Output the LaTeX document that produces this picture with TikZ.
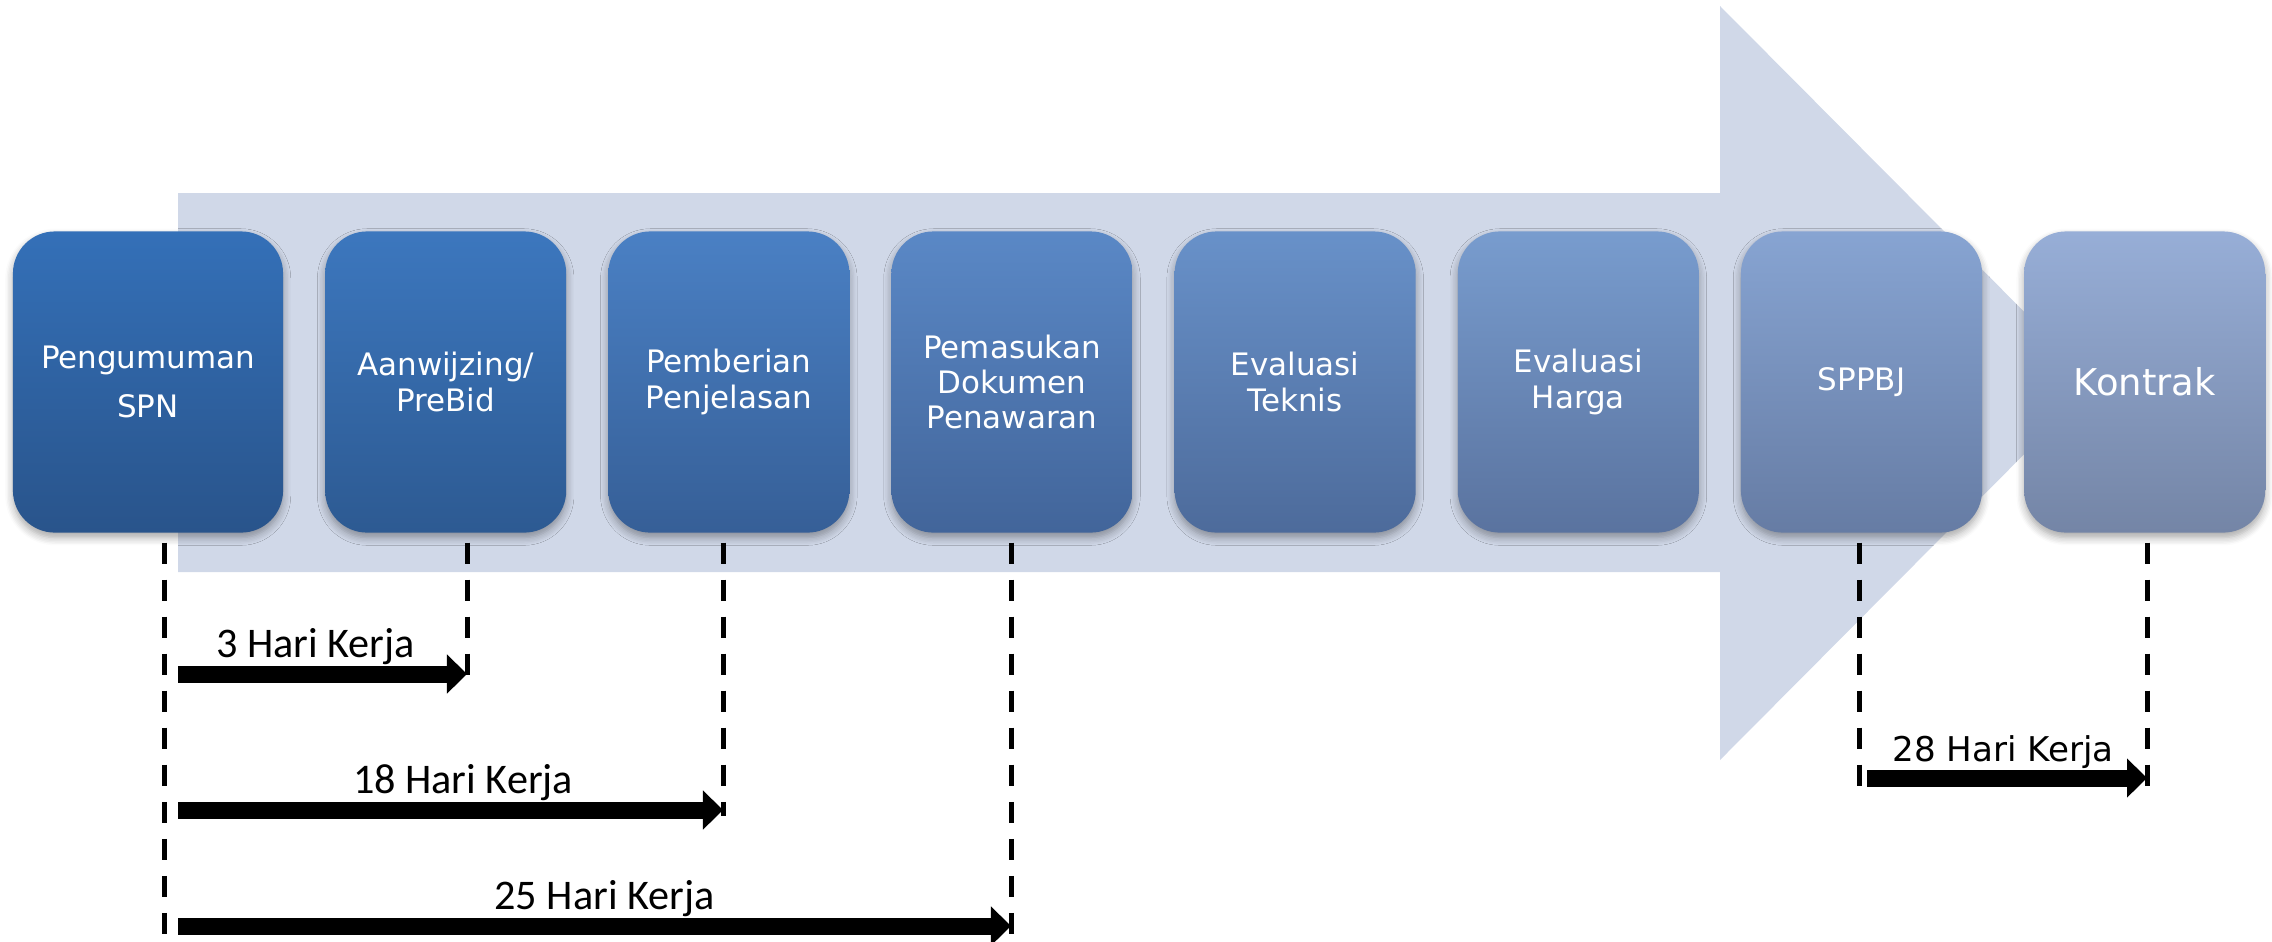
\documentclass[tikz,border=0pt]{standalone}
\usepackage{fontspec}
\setmainfont{DejaVu Sans}
\newfontfamily\carlito{Carlito}
\usepackage{tikz}
\usetikzlibrary{positioning,arrows.meta,shadows.blur}

\definecolor{arrowbg}{HTML}{D0D8E8}
\definecolor{spntop}{HTML}{3470B8}
\definecolor{spnbot}{HTML}{29548B}
\definecolor{prebidtop}{HTML}{3C77BE}
\definecolor{prebidbot}{HTML}{2D5A92}
\definecolor{penjelasantop}{HTML}{4A80C4}
\definecolor{penjelasanbot}{HTML}{365F97}
\definecolor{penawarantop}{HTML}{5A88C6}
\definecolor{penawaranbot}{HTML}{42659A}
\definecolor{teknistop}{HTML}{6891C9}
\definecolor{teknisbot}{HTML}{4D6B9B}
\definecolor{hargatop}{HTML}{789CCE}
\definecolor{hargabot}{HTML}{5A739F}
\definecolor{sppbjtop}{HTML}{87A4D2}
\definecolor{sppbjbot}{HTML}{667CA4}
\definecolor{kontraktop}{HTML}{97AED7}
\definecolor{kontrakbot}{HTML}{7485A6}

\tikzset{
  every node/.style={
    font=\fontsize{8.8}{10}\selectfont
  },
  stage box/.style n args={2}{
    shape=rectangle,
    rounded corners=0.42cm,
    minimum width=2.41cm,
    minimum height=3.01cm,
    inner sep=0pt,
    outer sep=0pt,
    align=center,
    text=white,
    top color=#1,
    bottom color=#2,
    blur shadow={shadow xshift=0cm, shadow yshift=-0.05cm,
      shadow blur steps=6, shadow opacity=35}
  },
  time line/.style={
    draw=black,
    line width=0.05cm,
    dash pattern=on 0.21cm off 0.16cm,
    shorten <=0.1cm
  },
  span arrow/.style={
    line width=0.17cm,
    -{Triangle[length=0.2cm,width=0.38cm]},
    shorten <=0.14cm
  },
  span label/.style={
    font=\carlito\fontsize{12}{14}\selectfont,
    anchor=base,
    yshift=0.17cm
  }
}

\begin{document}
\begin{tikzpicture}[x=0.01cm, y=-0.01cm, node distance=0.42cm]
  \useasboundingbox (0,0) rectangle (2272,941);
  % big arrow in the back
  \fill[arrowbg] (178,193) -- (1720,193) -- (1720,6) -- (2095,383)
    -- (1720,760) -- (1720,572) -- (178,572) -- cycle;

  % stages
  \node[stage box={spntop}{spnbot}, minimum width=2.7cm] (spn) at (148,382)
    {Pengumuman\\[0.14cm]SPN};
  \node[stage box={prebidtop}{prebidbot}, right=of spn] (prebid)
    {Aanwijzing/\\PreBid};
  \node[stage box={penjelasantop}{penjelasanbot}, right=of prebid] (penjelasan)
    {Pemberian\\Penjelasan};
  \node[stage box={penawarantop}{penawaranbot}, right=of penjelasan] (penawaran)
    {Pemasukan\\Dokumen\\Penawaran};
  \node[stage box={teknistop}{teknisbot}, right=of penawaran] (teknis)
    {Evaluasi\\Teknis};
  \node[stage box={hargatop}{hargabot}, right=of teknis] (harga)
    {Evaluasi\\Harga};
  \node[stage box={sppbjtop}{sppbjbot}, right=of harga] (sppbj) {SPPBJ};
  \node[stage box={kontraktop}{kontrakbot}, right=of sppbj,
    font=\fontsize{10.5}{12}\selectfont] (kontrak) {Kontrak};

  % dashed time lines
  \coordinate (spn base) at (164,935);
  \coordinate (prebid base) at (467,680);
  \coordinate (penjelasan base) at (723,816);
  \coordinate (penawaran base) at (1011,935);
  \coordinate (sppbj base) at (1859,790);
  \coordinate (kontrak base) at (2147,790);
  \draw[time line] (spn.south -| spn base) -- (spn base);
  \draw[time line] (prebid.south -| prebid base) -- (prebid base);
  \draw[time line] (penjelasan.south -| penjelasan base) -- (penjelasan base);
  \draw[time line] (penawaran.south -| penawaran base) -- (penawaran base);
  \draw[time line] (sppbj.south -| sppbj base) -- (sppbj base);
  \draw[time line] (kontrak.south -| kontrak base) -- (kontrak base);

  % durations
  \coordinate (row one) at (0,674);
  \coordinate (row two) at (0,810);
  \coordinate (row three) at (0,926);
  \coordinate (row four) at (0,778);
  \draw[span arrow] (spn base |- row one) -- (prebid base |- row one)
    node[span label, midway] {3 Hari Kerja};
  \draw[span arrow] (spn base |- row two) -- (penjelasan base |- row two)
    node[span label, pos=0.535] {18 Hari Kerja};
  \draw[span arrow] (spn base |- row three) -- (penawaran base |- row three)
    node[span label, pos=0.52] {25 Hari Kerja};
  \draw[span arrow, shorten <=0.08cm] (sppbj base |- row four) -- (kontrak base |- row four)
    node[span label, midway, font=\fontsize{9.7}{12}\selectfont] {28 Hari Kerja};
\end{tikzpicture}
\end{document}
